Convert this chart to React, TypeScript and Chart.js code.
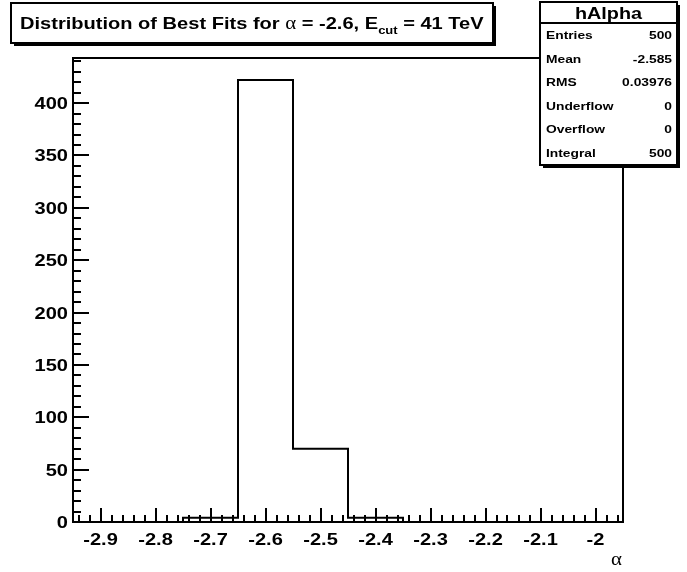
import React, { useEffect, useRef } from "react";
import { Chart, registerables } from "chart.js";

Chart.register(...registerables);

// ---- data ----
const binLowEdges = [-2.95, -2.85, -2.75, -2.65, -2.55, -2.45, -2.35, -2.25, -2.15, -2.05];
const binWidth = 0.1;
const counts = [0, 0, 4, 422, 70, 4, 0, 0, 0, 0];
const xMin = -2.95;
const xMax = -1.95;
const yMax = 443.1;
const xTickValues = [-2.9, -2.8, -2.7, -2.6, -2.5, -2.4, -2.3, -2.2, -2.1, -2.0];
const xTickLabels = ["-2.9", "-2.8", "-2.7", "-2.6", "-2.5", "-2.4", "-2.3", "-2.2", "-2.1", "-2"];
const yTickValues = [0, 50, 100, 150, 200, 250, 300, 350, 400];
const yTickLabels = ["0", "50", "100", "150", "200", "250", "300", "350", "400"];
const statsTitle = "hAlpha";
const statsLabels = ["Entries", "Mean", "RMS", "Underflow", "Overflow", "Integral"];
const statsValues = ["500", "-2.585", "0.03976", "0", "0", "500"];
const xAxisTitle = "α";

const FONT = '"Liberation Sans", Arial, Helvetica, sans-serif';
const SERIF = '"Liberation Serif", "DejaVu Serif", serif';
const SX = 1.18; // horizontal glyph stretch seen in the reference

function stretchedText(
  ctx: CanvasRenderingContext2D,
  text: string,
  x: number,
  y: number,
  align: "left" | "right" | "center",
  sx = SX
) {
  const w = ctx.measureText(text).width * sx;
  let x0 = x;
  if (align === "right") x0 = x - w;
  else if (align === "center") x0 = x - w / 2;
  ctx.save();
  ctx.textAlign = "left";
  ctx.translate(x0, y);
  ctx.scale(sx, 1);
  ctx.fillText(text, 0, 0);
  ctx.restore();
  return w;
}

const rootPlugin = {
  id: "rootDecor",
  afterDraw(chart: any) {
    const ctx = chart.ctx as CanvasRenderingContext2D;
    const { left, right, top, bottom } = chart.chartArea;
    const xs = chart.scales.x;
    const ys = chart.scales.y;
    ctx.save();
    ctx.strokeStyle = "#000";
    ctx.fillStyle = "#000";
    ctx.lineWidth = 2;
    // frame
    ctx.strokeRect(left, top, right - left, bottom - top);
    // x ticks
    const xMajLen = 14, xMinLen = 7;
    ctx.beginPath();
    for (let k = -60; k <= 60; k++) {
      const v = -2.9 + k * 0.02;
      if (v < xMin + 1e-9 || v > xMax - 1e-9) continue;
      const major = k % 5 === 0;
      const px = Math.round(xs.getPixelForValue(v));
      ctx.moveTo(px, bottom);
      ctx.lineTo(px, bottom - (major ? xMajLen : xMinLen));
    }
    // y ticks
    const yMajLen = 16, yMinLen = 8;
    for (let k = 0; k * 10 <= yMax; k++) {
      const v = k * 10;
      const major = k % 5 === 0;
      const py = Math.round(ys.getPixelForValue(v));
      ctx.moveTo(left, py);
      ctx.lineTo(left + (major ? yMajLen : yMinLen), py);
    }
    ctx.stroke();

    // tick labels
    ctx.textBaseline = "alphabetic";
    ctx.font = `bold 17px ${FONT}`;
    xTickValues.forEach((v, i) => {
      stretchedText(ctx, xTickLabels[i], xs.getPixelForValue(v), bottom + 23, "center");
    });
    yTickValues.forEach((v, i) => {
      stretchedText(ctx, yTickLabels[i], left - 5, ys.getPixelForValue(v) + 6, "right");
    });

    // x axis title
    ctx.font = `19px ${SERIF}`;
    stretchedText(ctx, xAxisTitle, right - 1, 565, "right", 1.1);

    // title box
    const tb = { x: 11, y: 3, w: 482, h: 40 };
    ctx.fillStyle = "#000";
    ctx.fillRect(tb.x + 3, tb.y + 3, tb.w, tb.h);
    ctx.fillStyle = "#fff";
    ctx.fillRect(tb.x, tb.y, tb.w, tb.h);
    ctx.strokeRect(tb.x, tb.y, tb.w, tb.h);
    ctx.fillStyle = "#000";
    const base = 29;
    let cx = 20;
    const seg = (t: string, font: string, dy = 0, sx = SX) => {
      ctx.font = font;
      cx += stretchedText(ctx, t, cx, base + dy, "left", sx);
    };
    const bold = `bold 17px ${FONT}`;
    seg("Distribution of Best Fits for ", bold);
    seg("α", `19px ${SERIF}`, 0, 1.1);
    seg(" = -2.6, E", bold);
    seg("cut", `bold 11px ${FONT}`, 5);
    seg(" = 41 TeV", bold);

    // stats box
    const sb = { x: 540, y: 2, w: 137, h: 163 };
    ctx.fillStyle = "#000";
    ctx.fillRect(sb.x + 3, sb.y + 3, sb.w, sb.h);
    ctx.fillStyle = "#fff";
    ctx.fillRect(sb.x, sb.y, sb.w, sb.h);
    ctx.strokeRect(sb.x, sb.y, sb.w, sb.h);
    ctx.beginPath();
    ctx.moveTo(sb.x, 23);
    ctx.lineTo(sb.x + sb.w, 23);
    ctx.stroke();
    ctx.fillStyle = "#000";
    ctx.font = `bold 16.5px ${FONT}`;
    stretchedText(ctx, statsTitle, sb.x + sb.w / 2, 19, "center", 1.2);
    ctx.font = `bold 11.5px ${FONT}`;
    statsLabels.forEach((lab, i) => {
      const y = 35 + i * 23.6 + 4;
      stretchedText(ctx, lab, sb.x + 6, y, "left", 1.2);
      stretchedText(ctx, statsValues[i], sb.x + sb.w - 5, y, "right", 1.2);
    });
    ctx.restore();
  },
};

export default function App() {
  const ref = useRef<HTMLCanvasElement>(null);
  useEffect(() => {
    if (!ref.current) return;
    const points = binLowEdges.map((x, i) => ({ x, y: counts[i] }));
    points.push({ x: binLowEdges[binLowEdges.length - 1] + binWidth, y: counts[counts.length - 1] });
    const chart = new Chart(ref.current, {
      type: "line",
      data: {
        datasets: [
          {
            data: points,
            stepped: "before",
            borderColor: "#000",
            borderWidth: 2,
            pointRadius: 0,
            fill: false,
          } as any,
        ],
      },
      options: {
        animation: false,
        responsive: true,
        maintainAspectRatio: false,
        layout: { padding: { top: 58, right: 64, left: 0, bottom: 0 } },
        plugins: { legend: { display: false }, tooltip: { enabled: false }, title: { display: false } },
        scales: {
          x: {
            type: "linear",
            min: xMin,
            max: xMax,
            grid: { display: false, drawTicks: false },
            border: { display: false },
            afterBuildTicks: (s: any) => {
              s.ticks = xTickValues.map((v) => ({ value: v }));
            },
            afterFit: (s: any) => {
              s.height = 50;
            },
            ticks: { display: false },
          },
          y: {
            type: "linear",
            min: 0,
            max: yMax,
            grid: { display: false, drawTicks: false },
            border: { display: false },
            afterBuildTicks: (s: any) => {
              s.ticks = yTickValues.map((v) => ({ value: v }));
            },
            afterFit: (s: any) => {
              s.width = 73;
            },
            ticks: { display: false },
          },
        },
      },
      plugins: [rootPlugin],
    });
    return () => chart.destroy();
  }, []);
  return (
    <div style={{ position: "fixed", left: 0, top: 0, width: 687, height: 572, background: "#fff" }}>
      <canvas ref={ref} />
    </div>
  );
}
